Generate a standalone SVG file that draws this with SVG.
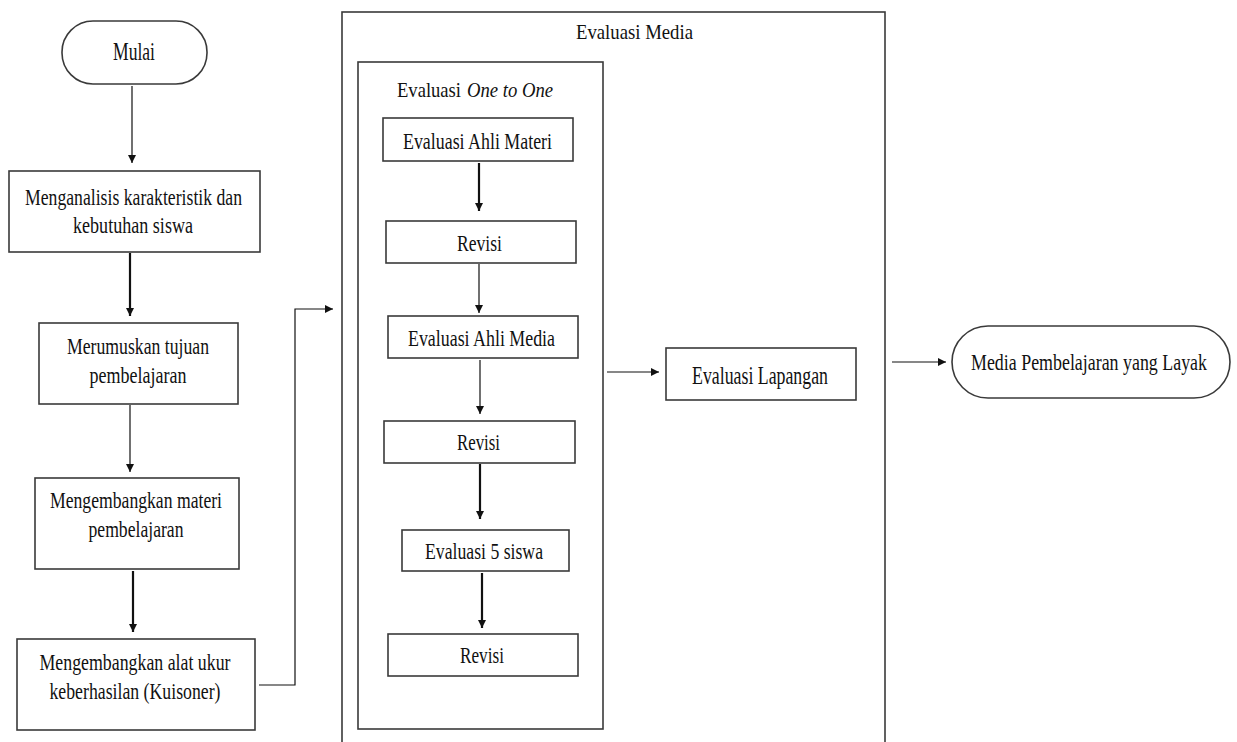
<svg xmlns="http://www.w3.org/2000/svg" width="1237" height="742" viewBox="0 0 1237 742">
<style>
.box{fill:#fff;stroke:#3a3a3a;stroke-width:1.6}
.frame{fill:none;stroke:#3a3a3a;stroke-width:1.6}
.t{font-family:"Liberation Serif","Times New Roman",serif;fill:#111;text-anchor:middle}
.s{font-family:"Liberation Serif","Times New Roman",serif;fill:#111;text-anchor:start}
.c{fill:none;stroke:#111;stroke-width:1.2}
.ck{fill:none;stroke:#111;stroke-width:2.2}
</style>
<defs>
<marker id="ah" viewBox="0 0 10 10" refX="10" refY="5" markerUnits="userSpaceOnUse" markerWidth="8" markerHeight="8" orient="auto">
<path d="M0,0 L10,5 L0,10 z" fill="#111"/>
</marker>
</defs>
<rect width="1237" height="742" fill="#fff"/>

<g id="mulai">
<rect class="box" x="62" y="21" width="145" height="63" rx="31" ry="31"/>
<text class="t" x="134" y="60" font-size="25" textLength="42" lengthAdjust="spacingAndGlyphs">Mulai</text>
</g>
<g id="analisis">
<rect class="box" x="9" y="171" width="251" height="81"/>
<text class="t" x="133.5" y="205" font-size="24" textLength="217" lengthAdjust="spacingAndGlyphs">Menganalisis karakteristik dan</text>
<text class="t" x="133" y="233" font-size="24" textLength="120" lengthAdjust="spacingAndGlyphs">kebutuhan siswa</text>
</g>
<g id="tujuan">
<rect class="box" x="39" y="323" width="199" height="81"/>
<text class="t" x="138" y="354" font-size="24" textLength="142" lengthAdjust="spacingAndGlyphs">Merumuskan tujuan</text>
<text class="t" x="138" y="383" font-size="24" textLength="97" lengthAdjust="spacingAndGlyphs">pembelajaran</text>
</g>
<g id="materi">
<rect class="box" x="35" y="478" width="204" height="91"/>
<text class="t" x="136" y="508" font-size="24" textLength="172" lengthAdjust="spacingAndGlyphs">Mengembangkan materi</text>
<text class="t" x="136" y="537" font-size="24" textLength="95" lengthAdjust="spacingAndGlyphs">pembelajaran</text>
</g>
<g id="alatukur">
<rect class="box" x="17" y="639" width="238" height="91"/>
<text class="t" x="135" y="670" font-size="24" textLength="191" lengthAdjust="spacingAndGlyphs">Mengembangkan alat ukur</text>
<text class="t" x="135" y="699" font-size="24" textLength="171" lengthAdjust="spacingAndGlyphs">keberhasilan (Kuisoner)</text>
</g>

<g id="evaluasi-media">
<rect class="frame" x="342" y="12" width="543" height="760"/>
<text class="t" x="634.5" y="39" font-size="22" textLength="117" lengthAdjust="spacingAndGlyphs">Evaluasi Media</text>
</g>
<g id="one-to-one">
<rect class="frame" x="358" y="62" width="245" height="667"/>
<text class="s" x="397" y="97" font-size="22" textLength="64" lengthAdjust="spacingAndGlyphs">Evaluasi</text>
<text class="s" x="467" y="97" font-size="22" font-style="italic" textLength="86" lengthAdjust="spacingAndGlyphs">One to One</text>
</g>
<g id="ahli-materi">
<rect class="box" x="383" y="118" width="190" height="43"/>
<text class="t" x="477.5" y="149" font-size="24" textLength="149" lengthAdjust="spacingAndGlyphs">Evaluasi Ahli Materi</text>
</g>
<g id="revisi1">
<rect class="box" x="386" y="221" width="190" height="42"/>
<text class="t" x="479.5" y="251" font-size="24" textLength="45" lengthAdjust="spacingAndGlyphs">Revisi</text>
</g>
<g id="ahli-media">
<rect class="box" x="388" y="316" width="190" height="42"/>
<text class="t" x="481.5" y="346" font-size="24" textLength="147" lengthAdjust="spacingAndGlyphs">Evaluasi Ahli Media</text>
</g>
<g id="revisi2">
<rect class="box" x="384" y="421" width="191" height="42"/>
<text class="t" x="478.5" y="450" font-size="24" textLength="43" lengthAdjust="spacingAndGlyphs">Revisi</text>
</g>
<g id="lima-siswa">
<rect class="box" x="402" y="530" width="167" height="41"/>
<text class="t" x="484" y="559" font-size="24" textLength="118" lengthAdjust="spacingAndGlyphs">Evaluasi 5 siswa</text>
</g>
<g id="revisi3">
<rect class="box" x="388" y="634" width="190" height="42"/>
<text class="t" x="482" y="663" font-size="24" textLength="44" lengthAdjust="spacingAndGlyphs">Revisi</text>
</g>
<g id="lapangan">
<rect class="box" x="666" y="348" width="190" height="52"/>
<text class="t" x="760" y="384" font-size="25" textLength="136" lengthAdjust="spacingAndGlyphs">Evaluasi Lapangan</text>
</g>
<g id="layak">
<rect class="box" x="952" y="326" width="278" height="72" rx="36" ry="36"/>
<text class="t" x="1089" y="370" font-size="24" textLength="236" lengthAdjust="spacingAndGlyphs">Media Pembelajaran yang Layak</text>
</g>

<g id="connectors">
<line class="c" x1="132" y1="86" x2="132" y2="163" marker-end="url(#ah)"/>
<line class="ck" x1="130" y1="253" x2="130" y2="316" marker-end="url(#ah)"/>
<line class="c" x1="130" y1="405" x2="130" y2="472" marker-end="url(#ah)"/>
<line class="ck" x1="133" y1="571" x2="133" y2="632" marker-end="url(#ah)"/>
<polyline class="c" points="259,685 295,685 295,309 333,309" marker-end="url(#ah)"/>
<line class="ck" x1="479" y1="163" x2="479" y2="211" marker-end="url(#ah)"/>
<line class="c" x1="479" y1="264" x2="479" y2="313" marker-end="url(#ah)"/>
<line class="c" x1="480" y1="360" x2="480" y2="414" marker-end="url(#ah)"/>
<line class="ck" x1="480" y1="464" x2="480" y2="519" marker-end="url(#ah)"/>
<line class="ck" x1="482" y1="573" x2="482" y2="628" marker-end="url(#ah)"/>
<line class="c" x1="607" y1="372" x2="659" y2="372" marker-end="url(#ah)"/>
<line class="c" x1="892" y1="362" x2="946" y2="362" marker-end="url(#ah)"/>
</g>
</svg>
